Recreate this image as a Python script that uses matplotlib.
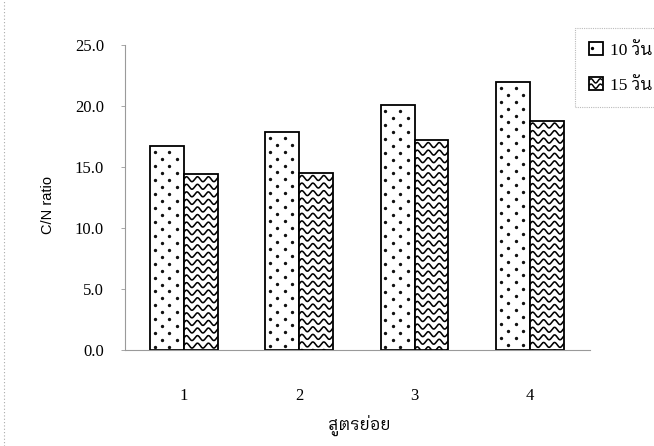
import numpy as np
import matplotlib
matplotlib.use("Agg")
import matplotlib.pyplot as plt
from matplotlib import font_manager
from matplotlib.ft2font import FT2Font
from matplotlib.lines import Line2D
from matplotlib.patches import Rectangle
from matplotlib.legend_handler import HandlerBase

# ค่า C/N ratio ของแต่ละสูตร
formulas = ["1", "2", "3", "4"]
cn_10 = [16.7, 17.9, 20.1, 22.0]
cn_15 = [14.4, 14.5, 17.2, 18.8]
series_labels = ["10 วัน", "15 วัน"]
y_ticks = [0, 5, 10, 15, 20, 25]


def find_thai_font():
    # หาฟอนต์ที่มีอักษรไทย
    names = []
    for path in font_manager.findSystemFonts():
        try:
            if 0x0E2A in FT2Font(path).get_charmap():
                names.append(font_manager.FontProperties(fname=path).get_name())
        except Exception:
            pass
    for n in names:
        if "Serif" in n or "Looped" in n:
            return n
    return names[0] if names else "DejaVu Sans"


thai = find_thai_font()
serif = ["Liberation Serif", thai, "DejaVu Sans"]


class DotHandler(HandlerBase):
    def create_artists(self, legend, orig_handle, xd, yd, w, h, fontsize, trans):
        box = Rectangle((-xd, -yd), w, h, facecolor="white", edgecolor="black",
                        lw=1.3, transform=trans)
        dot = Line2D([-xd + w * 0.25], [-yd + h * 0.55], marker="o", ms=1.4,
                     color="black", transform=trans)
        return [box, dot]


class WaveHandler(HandlerBase):
    def create_artists(self, legend, orig_handle, xd, yd, w, h, fontsize, trans):
        box = Rectangle((-xd, -yd), w, h, facecolor="white", edgecolor="black",
                        lw=1.3, transform=trans)
        arts = [box]
        xs = np.linspace(-xd + 0.8, -xd + w - 0.8, 40)
        for frac in (0.3, 0.7):
            ys = -yd + h * frac + 1.5 * np.sin(2 * np.pi * (xs + xd) / (w / 1.5))
            arts.append(Line2D(xs, ys, color="black", lw=1.1, transform=trans))
        return arts


fig = plt.figure(figsize=(6.54, 4.46), dpi=100)
ax = fig.add_axes([0.191, 0.2152, 0.711, 0.6839])

x = np.arange(1, len(formulas) + 1)
w = 0.293
b10 = ax.bar(x - w / 2, cn_10, w, facecolor="white", edgecolor="black",
             linewidth=1.3, zorder=2)
b15 = ax.bar(x + w / 2, cn_15, w, facecolor="white", edgecolor="black",
             linewidth=1.3, zorder=2)

# ลายจุดในแท่ง 10 วัน
dx, dy = 0.129, 0.57
for bar in b10:
    x0, bw, bh = bar.get_x(), bar.get_width(), bar.get_height()
    for i, y0 in enumerate(np.arange(bh - 0.5, 0, -dy)):
        xs = np.arange(x0 + 0.04 + (dx / 2) * (i % 2), x0 + bw, dx)
        ln, = ax.plot(xs, np.full(len(xs), y0), "o", ms=1.4, color="#111111",
                      zorder=3)
        ln.set_clip_path(bar)

# ลายคลื่นในแท่ง 15 วัน
period, amp, row = 0.095, 0.2, 0.62
for bar in b15:
    x0, bw, bh = bar.get_x(), bar.get_width(), bar.get_height()
    xs = np.linspace(x0 - period, x0 + bw + period, 200)
    for y0 in np.arange(bh - 0.4, -row, -row):
        ys = y0 + amp * np.sin(2 * np.pi * (xs - x0) / period)
        ln, = ax.plot(xs, ys, color="black", lw=1.15, zorder=3)
        ln.set_clip_path(bar)

ax.set_xlim(0.49, 4.52)
ax.set_ylim(0, 25)
ax.set_yticks(y_ticks)
ax.set_yticklabels([f"{v:.1f}" for v in y_ticks], family=serif, fontsize=12)
ax.set_xticks(x)
ax.set_xticklabels(formulas, family=serif, fontsize=12)
ax.tick_params(axis="y", length=3, width=0.6, color="#999999", pad=12)
ax.tick_params(axis="x", length=0, pad=27)

for s in ["top", "right"]:
    ax.spines[s].set_visible(False)
for s in ["left", "bottom"]:
    ax.spines[s].set_color("#9a9a9a")
    ax.spines[s].set_linestyle((0, (1, 1)))
    ax.spines[s].set_linewidth(0.8)

ax.set_ylabel("C/N ratio", family=["Liberation Sans", "DejaVu Sans"],
              fontsize=10.5, va="center")
ax.yaxis.set_label_coords(-0.165, 0.475)
ax.set_xlabel("สูตรย่อย", family=[thai, "DejaVu Sans"], fontsize=12, va="center")
ax.xaxis.set_label_coords(0.505, -0.246)

leg = fig.legend([b10, b15], series_labels, loc="upper left",
                 bbox_to_anchor=(0.879, 0.937), borderaxespad=0,
                 handler_map={b10: DotHandler(), b15: WaveHandler()},
                 prop={"family": serif, "size": 12.5},
                 handlelength=0.8, handleheight=0.8, handletextpad=0.45,
                 labelspacing=1.05, borderpad=0.8, fancybox=False)
leg.get_frame().set_edgecolor("#aaaaaa")
leg.get_frame().set_linestyle((0, (1, 1)))
leg.get_frame().set_linewidth(0.8)

# เส้นขอบกระดาษด้านซ้าย
fig.add_artist(Line2D([0.006, 0.006], [0.0, 1.0], transform=fig.transFigure,
                      color="#aaaaaa", lw=0.8, ls=(0, (1, 2))))

fig.savefig("out.png", dpi=100)
